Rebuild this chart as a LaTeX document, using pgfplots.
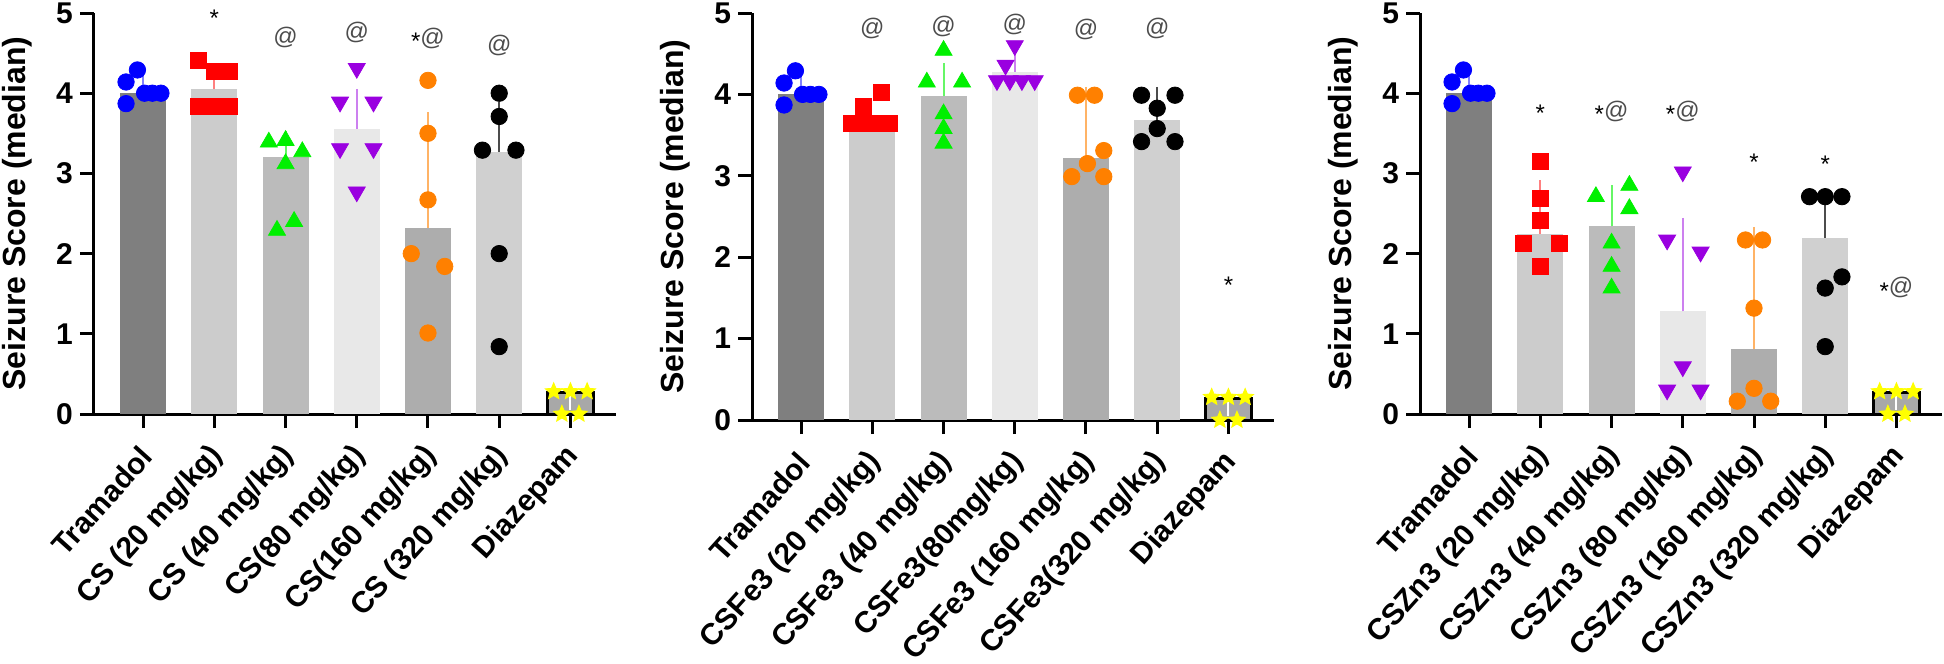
\documentclass[border=0pt]{standalone}
\usepackage{fontspec}
\setmainfont{Liberation Sans}
\usepackage{pgfplots}
\pgfplotsset{compat=1.18}

\definecolor{bTram}{HTML}{7F7F7F}
\definecolor{bA}{HTML}{CCCCCC}
\definecolor{bB}{HTML}{BBBBBB}
\definecolor{bC}{HTML}{E8E8E8}
\definecolor{bD}{HTML}{ADADAD}
\definecolor{bE}{HTML}{D0D0D0}
\definecolor{bDia}{HTML}{A8A8A8}
\definecolor{pBlue}{HTML}{0000FF}
\definecolor{pRed}{HTML}{FF0000}
\definecolor{pGreen}{HTML}{00F000}
\definecolor{pPurple}{HTML}{9A00E0}
\definecolor{pOrange}{HTML}{FF8000}
\definecolor{pYellow}{HTML}{FFFF00}

\pgfdeclareplotmark{fstar}{%
 \pgfpathmoveto{\pgfpointpolar{90}{\pgfplotmarksize}}%
 \pgfpathlineto{\pgfpointpolar{126}{0.45\pgfplotmarksize}}%
 \pgfpathlineto{\pgfpointpolar{162}{\pgfplotmarksize}}%
 \pgfpathlineto{\pgfpointpolar{198}{0.45\pgfplotmarksize}}%
 \pgfpathlineto{\pgfpointpolar{234}{\pgfplotmarksize}}%
 \pgfpathlineto{\pgfpointpolar{270}{0.45\pgfplotmarksize}}%
 \pgfpathlineto{\pgfpointpolar{306}{\pgfplotmarksize}}%
 \pgfpathlineto{\pgfpointpolar{342}{0.45\pgfplotmarksize}}%
 \pgfpathlineto{\pgfpointpolar{18}{\pgfplotmarksize}}%
 \pgfpathlineto{\pgfpointpolar{54}{0.45\pgfplotmarksize}}%
 \pgfpathclose
 \pgfusepathqfillstroke}

\tikzset{ann/.style={font=\fontsize{12}{12}\selectfont, text=black!70, inner sep=0pt}}

\pgfplotsset{
 panel/.style={
  scale only axis, width=261pt, anchor=south west,
  xmin=-0.69, xmax=6.64, ymin=0, ymax=5,
  axis x line*=bottom, axis y line*=left,
  axis line style={line width=1.5pt, -},
  ytick={0,1,2,3,4,5}, xtick={0,1,2,3,4,5,6},
  tick align=outside, major tick length=7pt,
  tick style={line width=1.5pt, black},
  clip=false,
  /pgf/number format/assume math mode=true,
  yticklabel style={font=\bfseries\fontsize{15}{15}\selectfont},
  xticklabel style={font=\bfseries\fontsize{15}{15}\selectfont, xshift=4pt, yshift=-9pt, rotate=48, anchor=east},
  ylabel={Seizure Score (median)},
  ylabel style={font=\bfseries\fontsize{16}{16}\selectfont, at={(axis description cs:-0.147,0.5)}, anchor=center},
 },
 grpbar/.style={ybar, bar width=23pt, bar shift=0pt, draw=none, fill=#1},
 errs/.style={error bars/.cd, y dir=plus, y explicit,
   error bar style={line width=1pt, color=#1},
   error mark options={line width=1pt, mark size=4.2pt, color=#1}},
 diabar/.style={ybar, bar width=23pt, bar shift=0pt, draw=black, line width=1.5pt, fill=bDia,
   error bars/.cd, y dir=minus, y explicit, error mark=none,
   error bar style={line width=1pt, color=white}},
 ptsC/.style={only marks, mark=*, mark size=4.1pt, color=#1},
 ptsS/.style={only marks, mark=square*, mark size=4.0pt, color=#1},
 ptsU/.style={only marks, mark=triangle*, mark size=4.9pt, color=#1},
 ptsD/.style={only marks, mark=triangle*, mark size=4.9pt, color=#1, mark options={rotate=180}},
 ptsStar/.style={only marks, mark=fstar, mark size=4.4pt, color=pYellow},
}

\begin{document}
\begin{tikzpicture}
%================ Panel 1: CS =================
\begin{axis}[panel, at={(47pt,-207pt)}, height=200.5pt,
  xticklabels={Tramadol, CS (20 mg/kg), CS (40 mg/kg), CS(80 mg/kg), CS(160 mg/kg), CS (320 mg/kg), Diazepam}]
\addplot[grpbar=bTram, errs=pBlue!50] coordinates {(0,4.0) +- (0,0.17)};
\addplot[grpbar=bA, errs=pRed!50] coordinates {(1,4.05) +- (0,0.11)};
\addplot[grpbar=bB, errs=pGreen!60] coordinates {(2,3.20) +- (0,0.22)};
\addplot[grpbar=bC, errs=pPurple!50] coordinates {(3,3.56) +- (0,0.39)};
\addplot[grpbar=bD, errs=pOrange!60] coordinates {(4,2.32) +- (0,1.34)};
\addplot[grpbar=bE, errs=black!70] coordinates {(5,3.27) +- (0,0.52)};
\addplot[diabar] coordinates {(6,0.27) +- (0,0.22)};
\addplot[ptsC=pBlue] coordinates {(-0.08,4.29) (-0.24,4.14) (-0.24,3.87) (0.02,4.0) (0.13,4.0) (0.25,4.0)};
\addplot[ptsS=pRed] coordinates {(0.77,4.41) (1,4.27) (1.21,4.27) (0.77,3.83) (1,3.83) (1.21,3.83)};
\addplot[ptsU=pGreen] coordinates {(1.765,3.39) (2,3.41) (2.235,3.27) (2,3.12) (2.12,2.40) (1.88,2.29)};
\addplot[ptsD=pPurple] coordinates {(3,4.31) (2.765,3.89) (3.235,3.89) (2.765,3.31) (3.235,3.31) (3,2.77)};
\addplot[ptsC=pOrange] coordinates {(4,4.16) (4,3.50) (4,2.67) (3.765,2.0) (4.235,1.84) (4,1.01)};
\addplot[ptsC=black] coordinates {(5,4.0) (5,3.71) (4.765,3.29) (5.235,3.29) (5,2.0) (5,0.84)};
\addplot[ptsStar] coordinates {(5.765,0.28) (6,0.28) (6.235,0.28) (5.88,0) (6.12,0)};
\node[ann, text=black] at (axis cs:1,4.93) {*};
\node[ann] at (axis cs:2,4.70) {@};
\node[ann] at (axis cs:3,4.76) {@};
\node[ann] at (axis cs:4,4.68) {\textcolor{black}{\raisebox{-0.35ex}{*}}@};
\node[ann] at (axis cs:5,4.60) {@};
\end{axis}
%================ Panel 2: CSFe3 =================
\begin{axis}[panel, at={(376pt,-210pt)}, height=203.5pt,
  xticklabels={Tramadol, CSFe3 (20 mg/kg), CSFe3 (40 mg/kg), CSFe3(80mg/kg), CSFe3 (160 mg/kg), CSFe3(320 mg/kg), Diazepam}]
\addplot[grpbar=bTram, errs=pBlue!50] coordinates {(0,4.0) +- (0,0.17)};
\addplot[grpbar=bA] coordinates {(1,3.72)};
\addplot[grpbar=bB, errs=pGreen!60] coordinates {(2,3.98) +- (0,0.30)};
\addplot[grpbar=bC, errs=pPurple!50] coordinates {(3,4.28) +- (0,0.11)};
\addplot[grpbar=bD, errs=pOrange!60] coordinates {(4,3.22) +- (0,0.77)};
\addplot[grpbar=bE, errs=black!70] coordinates {(5,3.69) +- (0,0.30)};
\addplot[diabar] coordinates {(6,0.27) +- (0,0.22)};
\addplot[ptsC=pBlue] coordinates {(-0.08,4.29) (-0.24,4.14) (-0.24,3.87) (0.02,4.0) (0.13,4.0) (0.25,4.0)};
\addplot[ptsS=pRed] coordinates {(1.12,4.03) (0.88,3.85) (0.71,3.64) (0.88,3.64) (1.06,3.64) (1.235,3.64)};
\addplot[ptsU=pGreen] coordinates {(2,4.54) (1.765,4.15) (2.26,4.15) (2,3.76) (2,3.58) (2,3.40)};
\addplot[ptsD=pPurple] coordinates {(3,4.60) (2.87,4.36) (2.75,4.17) (2.93,4.17) (3.1,4.17) (3.28,4.17)};
\addplot[ptsC=pOrange] coordinates {(3.88,3.99) (4.12,3.99) (4.25,3.31) (4.02,3.15) (3.8,2.99) (4.25,2.99)};
\addplot[ptsC=black] coordinates {(4.78,3.99) (5.25,3.99) (5,3.83) (5,3.58) (4.78,3.42) (5.25,3.42)};
\addplot[ptsStar] coordinates {(5.765,0.28) (6,0.28) (6.235,0.28) (5.88,0) (6.12,0)};
\node[ann] at (axis cs:1,4.81) {@};
\node[ann] at (axis cs:2,4.83) {@};
\node[ann] at (axis cs:3,4.86) {@};
\node[ann] at (axis cs:4,4.80) {@};
\node[ann] at (axis cs:5,4.81) {@};
\node[ann, text=black] at (axis cs:6,1.66) {*};
\end{axis}
%================ Panel 3: CSZn3 =================
\begin{axis}[panel, at={(710pt,-207pt)}, height=200.5pt,
  xticklabels={Tramadol, CSZn3 (20 mg/kg), CSZn3 (40 mg/kg), CSZn3 (80 mg/kg), CSZn3 (160 mg/kg), CSZn3 (320 mg/kg), Diazepam}]
\addplot[grpbar=bTram, errs=pBlue!50] coordinates {(0,4.0) +- (0,0.17)};
\addplot[grpbar=bA, errs=pRed!50] coordinates {(1,2.25) +- (0,0.56)};
\addplot[grpbar=bB, errs=pGreen!60] coordinates {(2,2.34) +- (0,0.41)};
\addplot[grpbar=bC, errs=pPurple!50] coordinates {(3,1.28) +- (0,1.06)};
\addplot[grpbar=bD, errs=pOrange!60] coordinates {(4,0.81) +- (0,1.42)};
\addplot[grpbar=bE, errs=black!70] coordinates {(5,2.20) +- (0,0.51)};
\addplot[diabar] coordinates {(6,0.27) +- (0,0.22)};
\addplot[ptsC=pBlue] coordinates {(-0.08,4.29) (-0.24,4.14) (-0.24,3.87) (0.02,4.0) (0.13,4.0) (0.25,4.0)};
\addplot[ptsS=pRed] coordinates {(1,3.15) (1,2.69) (1,2.42) (0.765,2.13) (1.265,2.13) (1,1.84)};
\addplot[ptsU=pGreen] coordinates {(2.25,2.85) (1.78,2.71) (2.25,2.56) (2,2.13) (2,1.84) (2,1.57)};
\addplot[ptsD=pPurple] coordinates {(3,3.02) (2.78,2.17) (3.25,2.02) (3,0.59) (2.78,0.30) (3.25,0.30)};
\addplot[ptsC=pOrange] coordinates {(3.88,2.17) (4.12,2.17) (4,1.32) (4,0.32) (3.765,0.16) (4.235,0.16)};
\addplot[ptsC=black] coordinates {(4.78,2.71) (5,2.71) (5.235,2.71) (5.235,1.71) (5,1.57) (5,0.84)};
\addplot[ptsStar] coordinates {(5.765,0.28) (6,0.28) (6.235,0.28) (5.88,0) (6.12,0)};
\node[ann, text=black] at (axis cs:1,3.75) {*};
\node[ann] at (axis cs:2,3.77) {\textcolor{black}{\raisebox{-0.35ex}{*}}@};
\node[ann] at (axis cs:3,3.77) {\textcolor{black}{\raisebox{-0.35ex}{*}}@};
\node[ann, text=black] at (axis cs:4,3.14) {*};
\node[ann, text=black] at (axis cs:5,3.12) {*};
\node[ann] at (axis cs:6,1.57) {\textcolor{black}{\raisebox{-0.35ex}{*}}@};
\end{axis}
\pgfresetboundingbox
\path[use as bounding box] (0pt,0pt) rectangle (972pt,-332pt);
\end{tikzpicture}
\end{document}
